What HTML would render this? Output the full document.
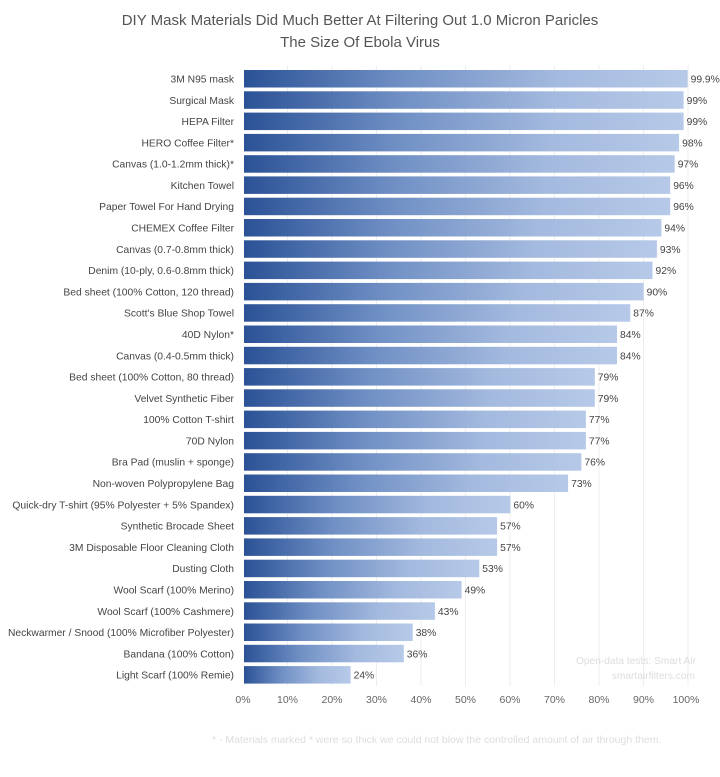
<!DOCTYPE html>
<html><head><meta charset="utf-8"><style>
body{margin:0;background:#fff;}
svg{display:block;font-family:"Liberation Sans",sans-serif;}
</style></head><body>
<svg width="720" height="777" viewBox="0 0 720 777">
<defs><linearGradient id="g" x1="0" x2="1" y1="0" y2="0">
<stop offset="0" stop-color="#2b5296"/><stop offset="0.35" stop-color="#6f8fc4"/><stop offset="0.7" stop-color="#a3b9de"/><stop offset="1" stop-color="#b6c9e8"/></linearGradient></defs>
<text x="360" y="25" text-anchor="middle" font-size="15" fill="#555">DIY Mask Materials Did Much Better At Filtering Out 1.0 Micron Paricles</text>
<text x="360" y="47" text-anchor="middle" font-size="15" fill="#555">The Size Of Ebola Virus</text>
<g stroke="#eee" stroke-width="1">
<line x1="287.5" y1="65" x2="287.5" y2="686"/><line x1="332" y1="65" x2="332" y2="686"/><line x1="376.5" y1="65" x2="376.5" y2="686"/><line x1="421" y1="65" x2="421" y2="686"/><line x1="465.5" y1="65" x2="465.5" y2="686"/><line x1="510" y1="65" x2="510" y2="686"/><line x1="554.5" y1="65" x2="554.5" y2="686"/><line x1="599" y1="65" x2="599" y2="686"/><line x1="643.5" y1="65" x2="643.5" y2="686"/><line x1="688" y1="65" x2="688" y2="686"/>
</g>
<g id="bars" font-size="10.3" fill="#444"></g>
<g font-size="10.5" fill="#666" text-anchor="middle">
<text x="243" y="703">0%</text><text x="287.5" y="703">10%</text><text x="332" y="703">20%</text><text x="376.5" y="703">30%</text><text x="421" y="703">40%</text><text x="465.5" y="703">50%</text><text x="510" y="703">60%</text><text x="554.5" y="703">70%</text><text x="599" y="703">80%</text><text x="643.5" y="703">90%</text><text x="686" y="703">100%</text>
</g>
<g font-size="10.2" fill="#ddd" text-anchor="end"><text x="696" y="664">Open-data tests: Smart Air</text><text x="695" y="679">smartairfilters.com</text></g>
<text x="212" y="743" font-size="10.5" fill="#ddd">* - Materials marked * were so thick we could not blow the controlled amount of air through them.</text>
</svg>
<script>
var d=[["3M N95 mask",99.9,"99.9%"],["Surgical Mask",99,"99%"],["HEPA Filter",99,"99%"],["HERO Coffee Filter*",98,"98%"],["Canvas (1.0-1.2mm thick)*",97,"97%"],["Kitchen Towel",96,"96%"],["Paper Towel For Hand Drying",96,"96%"],["CHEMEX Coffee Filter",94,"94%"],["Canvas (0.7-0.8mm thick)",93,"93%"],["Denim (10-ply, 0.6-0.8mm thick)",92,"92%"],["Bed sheet (100% Cotton, 120 thread)",90,"90%"],["Scott's Blue Shop Towel",87,"87%"],["40D Nylon*",84,"84%"],["Canvas (0.4-0.5mm thick)",84,"84%"],["Bed sheet (100% Cotton, 80 thread)",79,"79%"],["Velvet Synthetic Fiber",79,"79%"],["100% Cotton T-shirt",77,"77%"],["70D Nylon",77,"77%"],["Bra Pad (muslin + sponge)",76,"76%"],["Non-woven Polypropylene Bag",73,"73%"],["Quick-dry T-shirt (95% Polyester + 5% Spandex)",60,"60%"],["Synthetic Brocade Sheet",57,"57%"],["3M Disposable Floor Cleaning Cloth",57,"57%"],["Dusting Cloth",53,"53%"],["Wool Scarf (100% Merino)",49,"49%"],["Wool Scarf (100% Cashmere)",43,"43%"],["Neckwarmer / Snood (100% Microfiber Polyester)",38,"38%"],["Bandana (100% Cotton)",36,"36%"],["Light Scarf (100% Remie)",24,"24%"]];
var g=document.getElementById('bars'),h='';
d.forEach(function(r,i){var y=70+i*21.29,w=r[1]*4.44;
h+='<rect x="244" y="'+y.toFixed(1)+'" width="'+w.toFixed(1)+'" height="17.5" fill="url(#g)"/>';
h+='<text x="234" y="'+(y+12.5).toFixed(1)+'" text-anchor="end">'+r[0]+'</text>';
h+='<text x="'+(247+w).toFixed(1)+'" y="'+(y+12.5).toFixed(1)+'">'+r[2]+'</text>';});
g.innerHTML=h;
</script>
</body></html>
